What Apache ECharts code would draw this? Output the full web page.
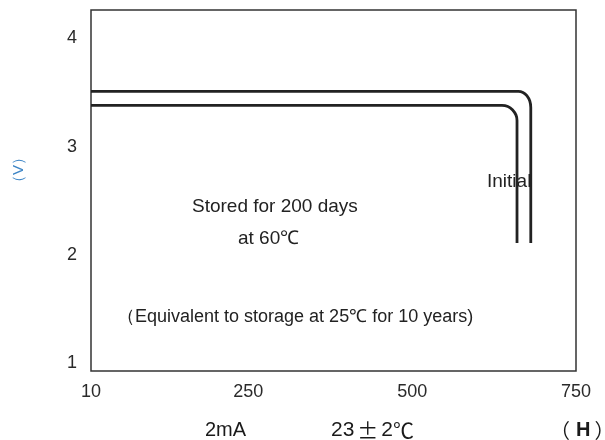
<!DOCTYPE html>
<html>
<head>
<meta charset="utf-8">
<script src="https://cdn.jsdelivr.net/npm/echarts@6/dist/echarts.min.js"></script>
<style>html,body{margin:0;padding:0;background:#fff}#c{width:605px;height:440px}</style>
</head>
<body>
<div id="c"></div>
<script>
const xTicks = [10, 250, 500, 750];
const yTicks = [1, 2, 3, 4];
const initialX = [10, 600, 662, 669, 675, 679.5, 681, 681];
const initialY = [3.51, 3.51, 3.51, 3.50, 3.47, 3.42, 3.36, 2.11];
const storedX = [10, 600, 637, 646, 653, 658.5, 660, 660];
const storedY = [3.38, 3.38, 3.38, 3.37, 3.34, 3.29, 3.24, 2.11];

const zip = (a, b) => a.map((v, i) => [v, b[i]]);
const FONT = 'Liberation Sans, Arial, sans-serif';
const CJK = '"Noto Sans CJK SC", sans-serif';
const chart = echarts.init(document.getElementById('c'));
chart.setOption({
  animation: false,
  backgroundColor: '#fff',
  grid: { left: 91, right: 29, top: 10, bottom: 69, show: true, borderColor: '#333', borderWidth: 1.5, backgroundColor: 'transparent' },
  xAxis: {
    type: 'value', min: 10, max: 750,
    axisLine: { show: false }, axisTick: { show: false }, splitLine: { show: false },
    axisLabel: { customValues: xTicks, color: '#2a2a2a', fontSize: 18, fontFamily: FONT, margin: 12 }
  },
  yAxis: {
    type: 'value', min: 0.93, max: 4.26,
    axisLine: { show: false }, axisTick: { show: false }, splitLine: { show: false },
    axisLabel: { customValues: yTicks, color: '#2a2a2a', fontSize: 18, fontFamily: FONT, margin: 14 }
  },
  series: [
    { name: 'Initial', type: 'line', data: zip(initialX, initialY), showSymbol: false, smooth: 0.2, z: 3,
      lineStyle: { color: '#222', width: 2.8 } },
    { name: 'Stored', type: 'line', data: zip(storedX, storedY), showSymbol: false, smooth: 0.2, z: 3,
      lineStyle: { color: '#222', width: 2.8 } }
  ],
  graphic: [
    { type: 'text', z: 1, x: 487, y: 182, style: { text: 'Initial', fill: '#222', font: '19px ' + FONT, verticalAlign: 'middle' } },
    { type: 'text', x: 192, y: 207, style: { text: 'Stored for 200 days', fill: '#222', font: '19px ' + FONT, verticalAlign: 'middle' } },
    { type: 'text', x: 238, y: 239, style: { text: 'at 60℃', fill: '#222', font: '19px ' + FONT, verticalAlign: 'middle' } },
    { type: 'text', x: 117, y: 317, style: { text: '（Equivalent to storage at 25℃ for 10 years)', fill: '#222', font: '18px ' + FONT, verticalAlign: 'middle' } },
    { type: 'text', x: 205, y: 430, style: { text: '2mA', fill: '#1a1a1a', font: '20px ' + FONT, verticalAlign: 'middle' } },
    { type: 'text', x: 331, y: 430, style: {
        text: '{a|23}{c|±}{a|2}{b|℃}', verticalAlign: 'middle',
        rich: { a: { fill: '#1a1a1a', font: '21px ' + FONT },
                b: { fill: '#1a1a1a', font: '21px ' + CJK },
                c: { fill: '#1a1a1a', font: '21px ' + CJK, padding: [0, 3, 0, 3] } } } },
    { type: 'text', x: 550, y: 430, style: {
        text: '{p|（}{h|H}{p|）}', verticalAlign: 'middle',
        rich: { p: { fill: '#1a1a1a', font: '20px ' + CJK },
                h: { fill: '#1a1a1a', font: 'bold 20px ' + FONT, padding: [0, 4, 0, 6] } } } },
    { type: 'text', x: 19, y: 170, rotation: Math.PI / 2, style: { text: '（V）', fill: '#3d85c6', font: '15px ' + FONT, align: 'center', verticalAlign: 'middle' } }
  ]
});
</script>
</body>
</html>
